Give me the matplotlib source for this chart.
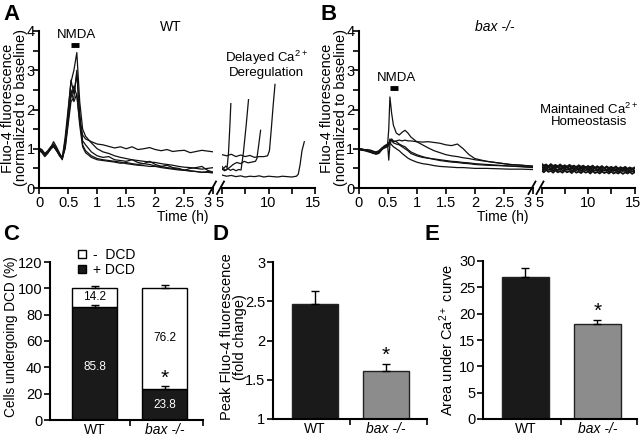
import matplotlib
matplotlib.use('Agg')
import matplotlib.pyplot as plt
from matplotlib.lines import Line2D
from matplotlib.transforms import ScaledTranslation
import numpy as np

plt.rcParams['font.family'] = ['Liberation Sans', 'DejaVu Sans']
plt.rcParams['font.size'] = 10.5
plt.rcParams['mathtext.fontset'] = 'custom'
plt.rcParams['mathtext.rm'] = 'Liberation Sans'
plt.rcParams['mathtext.it'] = 'Liberation Sans:italic'

# ---- data: panel A (WT) traces, 0-3 h ----
t_wt = [0, 0.05, 0.1, 0.15, 0.2, 0.25, 0.3, 0.35, 0.4, 0.45, 0.5, 0.55, 0.6, 0.65, 0.7,
        0.75, 0.8, 0.9, 1.0, 1.1, 1.2, 1.3, 1.4, 1.5, 1.6, 1.7, 1.8, 1.9, 2.0, 2.1, 2.2,
        2.3, 2.4, 2.5, 2.6, 2.7, 2.8, 2.9, 3.0]
wt1 = [1.02, 0.98, 0.88, 0.95, 1.05, 1.12, 1.0, 0.88, 0.78, 1.2, 1.8, 2.3, 2.6, 2.35, 1.7,
       1.35, 1.25, 1.18, 1.12, 1.1, 1.06, 1.02, 1.05, 1.0, 1.05, 0.98, 1.0, 1.03, 0.98, 0.95,
       0.98, 0.93, 0.95, 0.96, 0.9, 0.93, 0.96, 0.94, 0.92]
wt2 = [1.0, 0.95, 0.82, 0.9, 1.02, 1.18, 1.05, 0.9, 0.75, 1.3, 2.0, 2.7, 3.0, 3.45, 2.2,
       1.5, 1.32, 1.15, 1.0, 0.92, 0.88, 0.82, 0.78, 0.75, 0.72, 0.7, 0.68, 0.66, 0.65, 0.62,
       0.6, 0.58, 0.55, 0.53, 0.52, 0.5, 0.48, 0.5, 0.52]
wt3 = [0.96, 0.9, 0.8, 0.88, 1.0, 1.1, 0.98, 0.85, 0.72, 1.1, 1.9, 2.75, 2.4, 2.9, 1.9,
       1.2, 1.1, 0.92, 0.82, 0.78, 0.8, 0.72, 0.7, 0.68, 0.72, 0.65, 0.62, 0.68, 0.6, 0.55,
       0.58, 0.52, 0.5, 0.45, 0.5, 0.52, 0.55, 0.45, 0.4]
wt4 = [0.98, 0.92, 0.85, 0.92, 1.0, 1.05, 0.95, 0.85, 0.76, 1.0, 1.6, 2.2, 2.3, 3.0, 1.8,
       1.1, 0.95, 0.82, 0.75, 0.72, 0.7, 0.68, 0.66, 0.62, 0.6, 0.58, 0.57, 0.55, 0.55, 0.52,
       0.5, 0.48, 0.46, 0.45, 0.43, 0.42, 0.4, 0.4, 0.38]
wt5 = [1.0, 0.95, 0.86, 0.9, 0.98, 1.08, 0.96, 0.82, 0.74, 1.05, 1.7, 2.5, 2.2, 2.4, 1.6,
       1.05, 0.9, 0.78, 0.72, 0.7, 0.68, 0.66, 0.63, 0.65, 0.62, 0.6, 0.62, 0.6, 0.56, 0.55,
       0.52, 0.5, 0.48, 0.46, 0.44, 0.42, 0.4, 0.42, 0.4]

# WT traces 5-15 h (delayed Ca2+ deregulation)
wt_r1_t = [5.0, 5.2, 5.4, 5.55, 5.7, 5.85, 5.95]
wt_r1_v = [0.55, 0.5, 0.56, 0.52, 0.9, 1.6, 2.15]
wt_r2_t = [5.0, 5.3, 5.6, 5.9, 6.2, 6.5, 6.8, 7.05, 7.3, 7.6, 7.85]
wt_r2_v = [0.48, 0.44, 0.5, 0.45, 0.48, 0.44, 0.47, 0.46, 0.9, 1.6, 2.25]
wt_r3_t = [5.0, 5.4, 5.8, 6.2, 6.6, 7.0, 7.4, 7.8, 8.2, 8.6, 8.75, 8.95, 9.15]
wt_r3_v = [0.5, 0.45, 0.52, 0.6, 0.65, 0.62, 0.68, 0.64, 0.66, 0.68, 0.75, 1.1, 1.47]
wt_r4_t = [5.0, 5.5, 6.0, 6.5, 7.0, 7.5, 8.0, 8.5, 9.0, 9.5, 9.9, 10.1, 10.3, 10.5, 10.7]
wt_r4_v = [0.85, 0.82, 0.86, 0.8, 0.84, 0.8, 0.83, 0.78, 0.8, 0.8, 0.82, 0.95, 1.5, 2.1, 2.64]
wt_r5_t = [5.0, 5.5, 6.0, 6.5, 7.0, 7.5, 8.0, 8.5, 9.0, 9.5, 10.0, 10.5, 11.0, 11.5, 12.0,
           12.5, 13.0, 13.2, 13.4, 13.6, 13.85]
wt_r5_v = [0.33, 0.3, 0.32, 0.29, 0.31, 0.28, 0.3, 0.29, 0.31, 0.28, 0.3, 0.29, 0.28, 0.3,
           0.29, 0.28, 0.3, 0.35, 0.6, 0.95, 1.18]

# ---- data: panel B (bax -/-) traces, 0-3 h ----
t_bax = [0, 0.05, 0.1, 0.15, 0.2, 0.25, 0.3, 0.35, 0.4, 0.45, 0.5, 0.52, 0.54, 0.57, 0.6,
         0.65, 0.7, 0.75, 0.8, 0.85, 0.9, 1.0, 1.1, 1.2, 1.3, 1.4, 1.5, 1.6, 1.7, 1.8, 1.9,
         2.0, 2.2, 2.4, 2.6, 2.8, 3.0]
bax1 = [1.0, 0.99, 0.97, 0.98, 0.95, 0.93, 0.9, 0.93, 1.0, 1.05, 1.1, 1.5, 2.32, 1.9, 1.6,
        1.4, 1.35, 1.42, 1.47, 1.4, 1.3, 1.18, 1.1, 1.02, 0.95, 0.9, 0.85, 0.82, 0.8, 0.77,
        0.75, 0.72, 0.68, 0.64, 0.6, 0.58, 0.55]
bax2 = [1.0, 1.0, 0.98, 0.96, 0.97, 0.94, 0.92, 0.95, 1.02, 1.08, 1.12, 1.15, 1.2, 1.22,
        1.18, 1.2, 1.22, 1.2, 1.22, 1.2, 1.2, 1.18, 1.17, 1.18, 1.16, 1.14, 1.1, 1.08, 1.12,
        1.0, 0.85, 0.75, 0.68, 0.64, 0.6, 0.58, 0.56]
bax3 = [1.0, 0.97, 0.95, 0.94, 0.92, 0.9, 0.86, 0.88, 0.97, 1.05, 1.12, 0.71, 1.1, 1.25,
        1.2, 1.18, 1.12, 1.08, 1.05, 0.98, 0.92, 0.85, 0.8, 0.76, 0.73, 0.7, 0.68, 0.66,
        0.65, 0.63, 0.62, 0.6, 0.58, 0.57, 0.56, 0.55, 0.53]
bax4 = [0.98, 0.96, 0.97, 0.93, 0.91, 0.88, 0.87, 0.9, 0.98, 1.04, 1.08, 1.1, 1.25, 1.2,
        1.15, 1.12, 1.1, 1.05, 1.0, 0.95, 0.88, 0.82, 0.78, 0.76, 0.74, 0.72, 0.7, 0.68,
        0.67, 0.65, 0.64, 0.62, 0.6, 0.58, 0.56, 0.54, 0.52]
bax5 = [1.0, 0.98, 0.96, 0.95, 0.93, 0.9, 0.88, 0.91, 0.99, 1.02, 1.05, 1.08, 1.15, 1.1,
        1.05, 1.0, 0.95, 0.88, 0.82, 0.76, 0.72, 0.66, 0.62, 0.6, 0.57, 0.55, 0.54, 0.53,
        0.52, 0.52, 0.51, 0.5, 0.5, 0.49, 0.48, 0.48, 0.47]

# bax -/- traces 5-15 h (maintained homeostasis)
t_bax_r = [5.0, 5.25, 5.5, 5.75, 6.0, 6.25, 6.5, 6.75, 7.0, 7.25, 7.5, 7.75, 8.0, 8.25,
           8.5, 8.75, 9.0, 9.25, 9.5, 9.75, 10.0, 10.25, 10.5, 10.75, 11.0, 11.25, 11.5,
           11.75, 12.0, 12.25, 12.5, 12.75, 13.0, 13.25, 13.5, 13.75, 14.0, 14.25, 14.5,
           14.75, 15.0]
bax_r1 = [0.56, 0.5, 0.58, 0.52, 0.57, 0.49, 0.55, 0.52, 0.58, 0.5, 0.54, 0.51, 0.57, 0.49,
          0.55, 0.5, 0.56, 0.48, 0.54, 0.51, 0.55, 0.48, 0.53, 0.5, 0.55, 0.47, 0.53, 0.49,
          0.54, 0.47, 0.52, 0.48, 0.53, 0.46, 0.52, 0.48, 0.51, 0.46, 0.52, 0.47, 0.5]
bax_r2 = [0.5, 0.45, 0.52, 0.46, 0.5, 0.44, 0.49, 0.45, 0.51, 0.44, 0.48, 0.46, 0.5, 0.43,
          0.48, 0.45, 0.5, 0.43, 0.47, 0.45, 0.49, 0.42, 0.47, 0.44, 0.48, 0.42, 0.46, 0.44,
          0.47, 0.42, 0.46, 0.43, 0.47, 0.41, 0.45, 0.43, 0.46, 0.41, 0.45, 0.42, 0.44]
bax_r3 = [0.62, 0.57, 0.6, 0.55, 0.61, 0.56, 0.59, 0.54, 0.6, 0.55, 0.58, 0.53, 0.59, 0.55,
          0.57, 0.52, 0.58, 0.54, 0.57, 0.52, 0.56, 0.53, 0.57, 0.51, 0.55, 0.52, 0.56, 0.5,
          0.55, 0.51, 0.54, 0.5, 0.55, 0.49, 0.53, 0.5, 0.54, 0.49, 0.52, 0.49, 0.52]
bax_r4 = [0.45, 0.4, 0.46, 0.41, 0.44, 0.39, 0.45, 0.4, 0.43, 0.39, 0.44, 0.4, 0.43, 0.38,
          0.44, 0.39, 0.42, 0.38, 0.43, 0.39, 0.42, 0.37, 0.43, 0.38, 0.41, 0.37, 0.42, 0.38,
          0.41, 0.37, 0.42, 0.37, 0.4, 0.37, 0.41, 0.36, 0.4, 0.37, 0.41, 0.36, 0.4]
bax_r5 = [0.53, 0.58, 0.48, 0.56, 0.47, 0.55, 0.5, 0.57, 0.46, 0.54, 0.49, 0.56, 0.46, 0.53,
          0.47, 0.55, 0.45, 0.52, 0.48, 0.54, 0.45, 0.52, 0.46, 0.53, 0.44, 0.51, 0.46, 0.52,
          0.44, 0.5, 0.45, 0.52, 0.43, 0.5, 0.45, 0.51, 0.43, 0.49, 0.44, 0.5, 0.43]

# NMDA application bars (h) and their heights
nmda_a_t = [0.55, 0.68]
nmda_a_y = 3.65
nmda_b_t = [0.54, 0.68]
nmda_b_y = 2.56

# ---- data: bar panels ----
groups = ['WT', 'bax -/-']
plus_dcd = [85.8, 23.8]
minus_dcd = [14.2, 76.2]
plus_dcd_err = [1.2, 2.2]
total_err = [1.8, 2.5]

peak_fluo = [2.47, 1.61]
peak_fluo_err = [0.16, 0.09]

auc = [27.0, 18.0]
auc_err = [1.6, 0.8]

W, H = 640, 441
fig = plt.figure(figsize=(6.4, 4.41), dpi=100)
INK = '#111111'


def px_axes(x0, y0, x1, y1):
    return fig.add_axes([x0 / W, 1 - y1 / H, (x1 - x0) / W, (y1 - y0) / H])


def px_text(x, y, s, **kw):
    kw.setdefault('ha', 'center')
    kw.setdefault('va', 'center')
    return fig.text(x / W, 1 - y / H, s, **kw)


def nudge(label, dx_px):
    label.set_transform(label.get_transform() +
                        ScaledTranslation(dx_px / 100, 0, fig.dpi_scale_trans))


def plain_axes(ax):
    for side in ['top', 'right']:
        ax.spines[side].set_visible(False)
    for side in ['left', 'bottom']:
        ax.spines[side].set_linewidth(1.5)
    ax.tick_params(which='both', direction='out', length=4, width=1.2, pad=1.5)


def trace_panel(xoff, t_left, left_traces, right_traces, lw_right=0.9):
    axl = px_axes(xoff + 39, 31, xoff + 213.5, 188)
    axr = px_axes(xoff + 222, 31, xoff + 315, 188)
    for tr in left_traces:
        axl.plot(t_left, tr, color=INK, lw=0.9)
    for t, v in right_traces:
        axr.plot(t, v, color=INK, lw=lw_right)

    plain_axes(axl)
    axl.tick_params(axis='y', which='both', pad=-1)
    axl.set_xlim(0, 3)
    axl.set_ylim(0, 4)
    axl.set_xticks([0, 0.5, 1, 1.5, 2, 2.5, 3])
    axl.set_xticklabels(['0', '0.5', '1', '1.5', '2', '2.5', '3'])
    axl.set_yticks([0, 1, 2, 3, 4])
    axl.set_yticks([0.5, 1.5, 2.5, 3.5], minor=True)
    axl.set_xticks([], minor=True)

    for side in ['top', 'right', 'left']:
        axr.spines[side].set_visible(False)
    axr.spines['bottom'].set_linewidth(1.5)
    axr.tick_params(which='both', direction='out', length=4, width=1.2, pad=1.5)
    axr.set_xlim(5, 15)
    axr.set_ylim(0, 4)
    axr.set_xticks([5, 7.5, 10, 12.5, 15])
    axr.set_xticklabels(['5', '', '10', '', '15'])
    axr.set_yticks([])
    axr.patch.set_alpha(0)

    # spread the "3" and "5" labels that meet at the break
    nudge(axl.get_xticklabels()[-1], -5.5)
    nudge(axr.get_xticklabels()[0], -2)
    nudge(axr.get_xticklabels()[-1], -2)

    # axis break marks "//"
    for cx in (xoff + 212.5, xoff + 220.5):
        fig.add_artist(Line2D([(cx - 3.5) / W, (cx + 3.5) / W],
                              [1 - 194 / H, 1 - 181.5 / H],
                              transform=fig.transFigure, color='black', lw=1.3))

    px_text(xoff + 14.5, 108, 'Fluo-4 fluorescence\n(normalized to baseline)',
            rotation=90, linespacing=0.92)
    px_text(xoff + 183, 216.5, 'Time (h)', fontsize=10)
    return axl, axr


# ---- panel A ----
axa, axa2 = trace_panel(0, t_wt, [wt1, wt2, wt3, wt4, wt5],
                        [(wt_r1_t, wt_r1_v), (wt_r2_t, wt_r2_v), (wt_r3_t, wt_r3_v),
                         (wt_r4_t, wt_r4_v), (wt_r5_t, wt_r5_v)])
axa.plot(nmda_a_t, [nmda_a_y, nmda_a_y], color='black', lw=3.5, solid_capstyle='butt',
         clip_on=False)
px_text(77, 35, 'NMDA', fontsize=9.5)
px_text(171, 27, 'WT', fontsize=10)
px_text(266, 64, 'Delayed Ca$^{2+}$\nDeregulation', fontsize=9.5, linespacing=0.95)

# ---- panel B ----
axb, axb2 = trace_panel(319.5, t_bax, [bax1, bax2, bax3, bax4, bax5],
                        [(t_bax_r, bax_r1), (t_bax_r, bax_r2), (t_bax_r, bax_r3),
                         (t_bax_r, bax_r4), (t_bax_r, bax_r5)], lw_right=1.3)
axb.plot(nmda_b_t, [nmda_b_y, nmda_b_y], color='black', lw=3.5, solid_capstyle='butt')
px_text(396, 78, 'NMDA', fontsize=9.5)
px_text(495, 27, 'bax -/-', style='italic', fontsize=10)
px_text(589, 115, 'Maintained Ca$^{2+}$\nHomeostasis', fontsize=9.5, linespacing=0.95)


def bar_axes(ax, xlim):
    plain_axes(ax)
    ax.set_xlim(*xlim)
    ax.set_xticks([0, 1])
    ax.set_xticklabels(groups, fontsize=10)
    ax.get_xticklabels()[1].set_fontstyle('italic')
    ax.set_xticks([0.5, xlim[1]], minor=True)
    ax.tick_params(axis='x', which='major', length=0, pad=2)


x = np.arange(2)

# ---- panel C ----
axc = px_axes(50, 262, 203, 420)
axc.bar(x, plus_dcd, width=0.64, color='#1a1a1a', edgecolor='black', lw=1)
axc.bar(x, minus_dcd, bottom=plus_dcd, width=0.64, color='white', edgecolor='black', lw=1)
totals = np.array(plus_dcd) + np.array(minus_dcd)
axc.errorbar(x, plus_dcd, yerr=[[0, 0], plus_dcd_err], fmt='none', ecolor='black',
             elinewidth=1, capsize=3, capthick=1)
axc.errorbar(x, totals, yerr=[[0, 0], total_err], fmt='none', ecolor='black',
             elinewidth=1, capsize=3, capthick=1)
bar_axes(axc, (-0.636, 1.55))
axc.set_ylim(0, 120)
axc.set_yticks(range(0, 121, 20))
# value labels inside the stacked bars
plus_label_y = [40, 11.5]
minus_label_y = [93.5, 62]
for xi in x:
    axc.text(xi, plus_label_y[xi], f'{plus_dcd[xi]:.1f}', ha='center', va='center',
             color='white', fontsize=8.5)
    axc.text(xi, minus_label_y[xi], f'{minus_dcd[xi]:.1f}', ha='center', va='center',
             color='black', fontsize=8.5)
axc.text(1, 32, '*', ha='center', va='center', fontsize=15)
handles = [Line2D([], [], ls='none', marker='s', ms=6, mfc='white', mec='black', mew=1),
           Line2D([], [], ls='none', marker='s', ms=6, mfc='#1a1a1a', mec='black', mew=1)]
axc.legend(handles, ['-  DCD', '+ DCD'], loc='upper left', bbox_to_anchor=(0.17, 1.09),
           frameon=False, handlelength=0.8, handletextpad=0.4, labelspacing=0.1,
           borderaxespad=0, borderpad=0, fontsize=10)
px_text(11, 337, 'Cells undergoing DCD (%)', rotation=90, fontsize=9.8)

# ---- panel D ----
axd = px_axes(273, 262, 427, 419)
axd.bar(x, np.array(peak_fluo) - 1, bottom=1, width=0.65, color=['#1a1a1a', '#8c8c8c'],
        edgecolor='#222222', lw=1)
axd.errorbar(x, peak_fluo, yerr=[[0, 0], peak_fluo_err], fmt='none', ecolor='black',
             elinewidth=1, capsize=3, capthick=1)
bar_axes(axd, (-0.59, 1.58))
axd.set_ylim(1, 3)
axd.set_yticks([1, 1.5, 2, 2.5, 3])
axd.set_yticklabels(['1', '1.5', '2', '2.5', '3'])
axd.text(1, 1.81, '*', ha='center', va='center', fontsize=15)
px_text(233.5, 337, 'Peak Fluo-4 fluorescence\n(fold change)', rotation=90,
        linespacing=0.9)

# ---- panel E ----
axe = px_axes(483, 261, 637, 419)
axe.bar(x, auc, width=0.65, color=['#1a1a1a', '#8c8c8c'], edgecolor='#222222', lw=1)
axe.errorbar(x, auc, yerr=[[0, 0], auc_err], fmt='none', ecolor='black', elinewidth=1,
             capsize=3, capthick=1)
bar_axes(axe, (-0.59, 1.55))
axe.set_ylim(0, 30)
axe.set_yticks(range(0, 31, 5))
axe.text(1, 20.5, '*', ha='center', va='center', fontsize=15)
px_text(447, 340, 'Area under Ca$^{2+}$ curve', rotation=90)

# panel letters
for lbl, lx, ly in [('A', 3, 15), ('B', 320, 15), ('C', 3, 235), ('D', 213, 235),
                    ('E', 424, 235)]:
    px_text(lx, ly, lbl, ha='left', fontsize=16, fontweight='bold')

fig.savefig('out.png', dpi=100)
